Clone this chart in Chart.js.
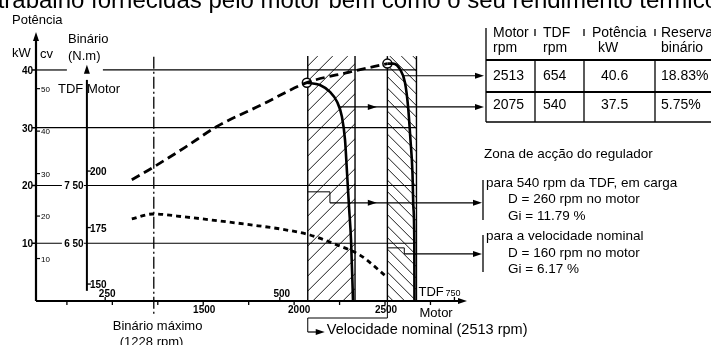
<!DOCTYPE html>
<html>
<head>
<meta charset="utf-8">
<script src="https://cdn.jsdelivr.net/npm/chart.js@4.4.1/dist/chart.umd.min.js"></script>
<style>
  html, body { margin: 0; background: #fff; }
  canvas { display: block; }
</style>
</head>
<body>
<canvas id="myChart" width="711" height="345"></canvas>
<script>
// power curve (kW), dashed
var powerRpm = [1107, 1222, 1400, 1575, 1823, 2070, 2300, 2513];
var powerKw = [21.0, 23.1, 26.6, 30.2, 34.0, 37.8, 39.6, 41.1];
// torque curve (N.m), short dashes
var torqueRpm = [1107, 1222, 1410, 1591, 1773, 1960, 2087, 2236, 2362, 2511];
var torqueNm = [178.8, 181.0, 179.6, 177.9, 176.1, 173.9, 171.7, 167.3, 162.8, 153.1];
// governor curves
var gov540Rpm = [2070, 2142, 2197, 2236, 2263, 2280, 2291, 2302, 2313, 2324];
var gov540Kw = [37.8, 37.4, 36.2, 34.5, 31.9, 27.9, 22.2, 16.3, 10.6, 0];
var govNomRpm = [2513, 2544, 2583, 2610, 2627, 2640, 2651, 2656, 2661, 2662];
var govNomKw = [41.1, 41.1, 40.1, 37.8, 33.6, 27.9, 22.2, 16.3, 10.6, 0];
// circled operating points
var markRpm = [2070, 2513];
var markKw = [37.8, 41.1];

// axes
var kwTicks = [10, 20, 30, 40];
var cvTicks = [10, 20, 30, 40, 50];
var torqueTicks = [150, 175, 200];
var motorTicks = [750, 1000, 1250, 1500, 1750, 2000, 2250, 2500, 2750];
var motorLabels = [1500, 2000, 2500];
var tdfTicks = [250, 500, 750];
var tdfRatio = 2075 / 540;
var sideLabels = ['7 50', '6 50']; // beside the 20 and 10 kW lines
var maxTorqueRpm = 1228;
var nominalRpm = 2513;

// governor zones (motor rpm)
var zoneStart = [2075, 2513];
var zoneEnd = [2335, 2673];

// table
var tableHead = [['Motor', 'rpm'], ['TDF', 'rpm'], ['Potência', 'kW'], ['Reserva', 'binário']];
var tableRow1 = ['2513', '654', '40.6', '18.83%'];
var tableRow2 = ['2075', '540', '37.5', '5.75%'];

var regText = [
  'para 540 rpm da TDF, em carga', 'D = 260 rpm no motor', 'Gi = 11.79 %',
  'para a velocidade nominal', 'D = 160 rpm no motor', 'Gi = 6.17 %'
];

function pts(xs, ys) {
  return xs.map(function (x, i) { return { x: x, y: ys[i] }; });
}

var FONT = "'Liberation Sans', Arial, sans-serif";

function arrowHead(ctx, x, y, dir) {
  ctx.beginPath();
  if (dir === 'right') {
    ctx.moveTo(x, y); ctx.lineTo(x - 9, y - 3); ctx.lineTo(x - 9, y + 3);
  } else {
    ctx.moveTo(x, y); ctx.lineTo(x - 3, y + 9); ctx.lineTo(x + 3, y + 9);
  }
  ctx.closePath();
  ctx.fill();
}

function line(ctx, x1, y1, x2, y2, w) {
  ctx.lineWidth = w || 1;
  ctx.beginPath();
  ctx.moveTo(x1, y1);
  ctx.lineTo(x2, y2);
  ctx.stroke();
}

var decor = {
  id: 'decor',
  beforeDatasetsDraw: function (chart) {
    var ctx = chart.ctx;
    var sx = chart.scales.x, sy = chart.scales.y;
    var px = function (v) { return sx.getPixelForValue(v); };
    var py = function (v) { return sy.getPixelForValue(v); };
    ctx.save();
    ctx.strokeStyle = '#000';
    ctx.fillStyle = '#000';

    // hatched zones
    for (var z = 0; z < zoneStart.length; z++) {
      var x1 = px(zoneStart[z]), x2 = px(zoneEnd[z]);
      var top = py(42.4), bot = py(0);
      ctx.save();
      ctx.beginPath();
      ctx.rect(x1, top, x2 - x1, bot - top);
      ctx.clip();
      ctx.lineWidth = 0.9;
      var step = z === 0 ? 15 : 11.5;
      for (var k = -400; k < 400; k += step) {
        ctx.beginPath();
        if (z === 0) {
          ctx.moveTo(x1 + k, bot);
          ctx.lineTo(x1 + k + (bot - top), top);
        } else {
          ctx.moveTo(x1 + k, top);
          ctx.lineTo(x1 + k + (bot - top), bot);
        }
        ctx.stroke();
      }
      ctx.restore();
      line(ctx, x1, top, x1, bot, 1.4);
      line(ctx, x2, top, x2, bot, 1.4);
    }

    // horizontal kW lines
    var left = chart.chartArea.left;
    var tAxis = px(860);
    var rightEnd = px(2673);
    kwTicks.forEach(function (v) {
      var y = py(v);
      if (v === 40) {
        line(ctx, left, y, tAxis - 20, y, 1.2);
        line(ctx, tAxis + 16, y, rightEnd, y, 1.2);
      } else {
        line(ctx, left, y, v === 10 ? px(2655) : rightEnd, y, 1.2);
      }
    });

    // max torque dash-dot line
    ctx.save();
    ctx.setLineDash([12, 3, 2, 3]);
    line(ctx, px(maxTorqueRpm), py(42.3), px(maxTorqueRpm), py(0) + 14, 1.3);
    ctx.restore();

    // connector steps inside the zones
    line(ctx, px(zoneStart[0]), py(18.9), px(2197), py(18.9), 1);
    line(ctx, px(2197), py(18.9), px(2197), py(17.0), 1);
    line(ctx, px(zoneStart[1]), py(9.2), px(2606), py(9.2), 1);
    line(ctx, px(2606), py(9.2), px(2606), py(8.15), 1);

    ctx.restore();
  },
  afterDatasetsDraw: function (chart) {
    var ctx = chart.ctx;
    var sx = chart.scales.x, sy = chart.scales.y, st = chart.scales.yT;
    var px = function (v) { return sx.getPixelForValue(v); };
    var py = function (v) { return sy.getPixelForValue(v); };
    var pt = function (v) { return st.getPixelForValue(v); };
    var area = chart.chartArea;
    ctx.save();
    ctx.strokeStyle = '#000';
    ctx.fillStyle = '#000';
    ctx.textBaseline = 'alphabetic';

    // kW axis
    var ax = area.left, ay = area.bottom;
    line(ctx, ax, ay, ax, area.top + 4, 2.2);
    arrowHead(ctx, ax, area.top - 1, 'up');
    // x axis
    line(ctx, ax, ay, area.right - 4, ay, 2.2);
    arrowHead(ctx, area.right + 2, ay, 'right');

    // kW ticks + labels
    ctx.font = 'bold 10px ' + FONT;
    ctx.textAlign = 'right';
    kwTicks.forEach(function (v) {
      line(ctx, ax - 4, py(v), ax, py(v), 1.5);
      ctx.fillText(String(v), ax - 3, py(v) + 4);
    });
    // cv ticks
    ctx.font = '8px ' + FONT;
    ctx.textAlign = 'left';
    cvTicks.forEach(function (v) {
      var y = py(v / 1.36);
      line(ctx, ax, y, ax + 4, y, 1.2);
      ctx.fillText(String(v), ax + 5, y + 3);
    });

    // torque axis
    var tx = px(860);
    line(ctx, tx, pt(147), tx, pt(243) + 6, 2);
    arrowHead(ctx, tx, pt(247), 'up');
    ctx.font = 'bold 10px ' + FONT;
    torqueTicks.forEach(function (v) {
      line(ctx, tx, pt(v), tx + 4, pt(v), 1.3);
      ctx.fillText(String(v), tx + 3, pt(v) + 4);
    });
    // side labels on 20 / 10 kW lines
    ctx.textAlign = 'center';
    [20, 10].forEach(function (v, i) {
      var y = py(v);
      ctx.fillStyle = '#fff';
      ctx.fillRect(tx - 25, y - 6, 22, 12);
      ctx.fillStyle = '#000';
      ctx.fillText(sideLabels[i], tx - 13, y + 4);
    });

    // motor rpm ticks / labels
    ctx.font = 'bold 10px ' + FONT;
    motorTicks.forEach(function (v) {
      line(ctx, px(v), ay - 1, px(v), ay + 4, 1.3);
    });
    motorLabels.forEach(function (v) {
      ctx.fillText(String(v), px(v) + (v === 2000 ? 5 : 1), ay + 12);
    });
    // TDF ticks / labels
    tdfTicks.forEach(function (v) {
      var x = px(v * tdfRatio);
      line(ctx, x, ay - 4, x, ay, 1.3);
      if (v < 750) ctx.fillText(String(v), x + 2, ay - 4);
    });
    ctx.textAlign = 'left';
    ctx.font = '9px ' + FONT;
    ctx.fillText('750', px(750 * tdfRatio) - 9, ay - 5);
    ctx.font = '13px ' + FONT;
    ctx.fillText('TDF', px(750 * tdfRatio) - 36, ay - 5);
    ctx.fillText('Motor', px(2673) + 3, ay + 16);

    // axis titles
    ctx.fillText('Potência', 12, 24);
    ctx.fillText('kW', 12, 57);
    ctx.fillText('cv', 40, 58);
    ctx.fillText('Binário', 68, 43);
    ctx.fillText('(N.m)', 68, 60);
    ctx.fillText('TDF Motor', 58, 93);

    // max torque label
    ctx.fillText('Binário máximo', px(maxTorqueRpm) - 41, ay + 29);
    ctx.fillText('(1228 rpm)', px(maxTorqueRpm) - 34, ay + 45);

    // nominal speed bracket
    var nx = px(nominalRpm), zx = px(zoneStart[0]);
    line(ctx, nx, ay, nx, ay + 17, 1);
    line(ctx, nx, ay + 17, zx, ay + 17, 1);
    line(ctx, zx, ay + 17, zx, ay + 31, 1);
    line(ctx, zx, ay + 31, zx + 12, ay + 31, 1.2);
    arrowHead(ctx, zx + 17, ay + 31, 'right');
    ctx.font = '14.5px ' + FONT;
    ctx.fillText('Velocidade nominal (2513 rpm)', zx + 19, ay + 33);

    // arrows to the table
    var tblX = 486;
    var y1 = py(39.0);
    line(ctx, px(2600), y1, tblX - 6, y1, 1.2);
    arrowHead(ctx, tblX - 2, y1, 'right');
    var y2 = py(33.6);
    line(ctx, px(2245), y2, tblX - 6, y2, 1.2);
    arrowHead(ctx, px(2455), y2, 'right');
    arrowHead(ctx, tblX - 2, y2, 'right');
    var y3 = py(17.0);
    line(ctx, px(2197), y3, tblX - 8, y3, 1.2);
    arrowHead(ctx, px(2455), y3, 'right');
    arrowHead(ctx, tblX - 4, y3, 'right');
    var y4 = py(8.15);
    line(ctx, px(2606), y4, tblX - 8, y4, 1.2);
    arrowHead(ctx, tblX - 4, y4, 'right');

    // brackets for regulator notes
    line(ctx, 483, 180, 483, 220, 1.3);
    line(ctx, 483, 235, 483, 272, 1.3);

    // regulator notes
    ctx.font = '13.5px ' + FONT;
    ctx.fillText('Zona de acção do regulador', 484, 158);
    ctx.fillText(regText[0], 486, 187);
    ctx.fillText(regText[1], 508, 203);
    ctx.fillText(regText[2], 508, 220);
    ctx.fillText(regText[3], 486, 240);
    ctx.fillText(regText[4], 508, 257);
    ctx.fillText(regText[5], 508, 273);

    // table
    var colX = [486, 535, 584, 655];
    var textX = [493, 545, 592, 661];
    line(ctx, colX[0], 28, colX[0], 122, 1.3);
    for (var c = 1; c < 4; c++) {
      line(ctx, colX[c], 29, colX[c], 36, 1.3);
      line(ctx, colX[c], 60, colX[c], 122, 1.3);
    }
    line(ctx, colX[0], 60, 711, 60, 2);
    line(ctx, colX[0], 92, 711, 92, 2);
    line(ctx, colX[0], 122, 711, 122, 1.3);
    ctx.font = '14px ' + FONT;
    var rowOff = [0, -2, 0, 0];
    var subOff = [0, -2, 6, 0];
    var valOff = [0, -2, 9, 0];
    for (var i = 0; i < 4; i++) {
      ctx.fillText(tableHead[i][0], textX[i] + rowOff[i], 37);
      ctx.fillText(tableHead[i][1], textX[i] + subOff[i], 52);
      ctx.fillText(tableRow1[i], textX[i] + valOff[i], 80);
      ctx.fillText(tableRow2[i], textX[i] + valOff[i], 109);
    }

    // top page text, cut off by the frame
    ctx.font = '24px ' + FONT;
    ctx.textAlign = 'right';
    ctx.fillText('trabalho fornecidas pelo motor bem como o seu rendimento térmico', 718, 8);

    ctx.restore();
  }
};

var options = {
  responsive: false,
  animation: false,
  layout: { padding: { left: 36, right: 246, top: 33, bottom: 44 } },
  plugins: { legend: { display: false }, tooltip: { enabled: false } },
  scales: {
    x: { type: 'linear', min: 580, max: 2940, display: false },
    y: { type: 'linear', min: 0, max: 46.4, display: false },
    yT: { type: 'linear', position: 'right', min: 142.5, max: 261.1, display: false }
  }
};

var chart = new Chart(document.getElementById('myChart'), {
  type: 'scatter',
  data: {
    datasets: [
      { data: pts(powerRpm, powerKw), showLine: true, borderColor: '#000', borderWidth: 2.8,
        borderDash: [9, 5], pointRadius: 0, cubicInterpolationMode: 'monotone', yAxisID: 'y' },
      { data: pts(torqueRpm, torqueNm), showLine: true, borderColor: '#000', borderWidth: 2.8,
        borderDash: [5, 4], pointRadius: 0, cubicInterpolationMode: 'monotone', yAxisID: 'yT' },
      { data: pts(gov540Rpm, gov540Kw), showLine: true, borderColor: '#000', borderWidth: 2.6,
        pointRadius: 0, cubicInterpolationMode: 'monotone', yAxisID: 'y' },
      { data: pts(govNomRpm, govNomKw), showLine: true, borderColor: '#000', borderWidth: 2.6,
        pointRadius: 0, cubicInterpolationMode: 'monotone', yAxisID: 'y' },
      { data: pts(markRpm, markKw), showLine: false, pointRadius: 4.5, pointBackgroundColor: '#fff',
        pointBorderColor: '#000', pointBorderWidth: 1.5, yAxisID: 'y' }
    ]
  },
  options: options,
  plugins: [decor]
});
</script>
</body>
</html>
